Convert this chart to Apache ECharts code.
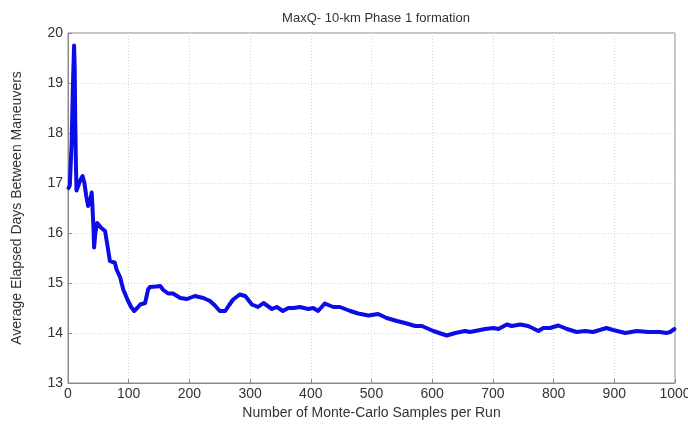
<!DOCTYPE html>
<html>
<head>
<meta charset="utf-8">
<script src="https://cdn.jsdelivr.net/npm/echarts@6/dist/echarts.min.js"></script>
<style>
  html, body { margin: 0; padding: 0; background: #fff; }
  #chart { width: 688px; height: 430px; }
</style>
</head>
<body>
<div id="chart"></div>
<script>
// Monte-Carlo sample count (x) and running average days between maneuvers (y)
const sampleCounts = [
  1, 3, 6, 8, 10, 11, 12, 13, 14, 17, 20, 24, 27, 30, 33, 36, 39, 40, 42, 43,
  45, 48, 50, 55, 61, 65, 69, 73, 77, 80, 86, 91, 99, 104, 109, 114, 119, 127, 132, 135,
  145, 152, 157, 165, 173, 185, 196, 209, 223, 234, 242, 250, 259, 265, 272, 283, 292, 303, 313, 322,
  336, 344, 354, 363, 372, 382, 396, 404, 412, 423, 437, 448, 465, 478, 495, 511, 525, 542, 555, 572,
  583, 602, 614, 624, 638, 654, 662, 679, 687, 701, 709, 723, 731, 745, 758, 775, 783, 794, 808, 822,
  838, 852, 865, 887, 898, 918, 937, 956, 975, 986, 992, 999
]
const avgDays = [
  16.9, 16.95, 17.8, 18.9, 19.75, 19.3, 18.2, 17.4, 16.85, 16.95, 17.05, 17.14, 17.0, 16.75, 16.54, 16.6, 16.81, 16.6, 16.1, 15.71,
  16.0, 16.2, 16.22, 16.1, 16.04, 15.75, 15.44, 15.42, 15.41, 15.27, 15.11, 14.87, 14.64, 14.52, 14.44, 14.5, 14.57, 14.6, 14.87, 14.92,
  14.93, 14.94, 14.86, 14.79, 14.79, 14.7, 14.68, 14.74, 14.7, 14.64, 14.55, 14.44, 14.44, 14.55, 14.67, 14.77, 14.74, 14.57, 14.52, 14.6,
  14.48, 14.52, 14.44, 14.5, 14.5, 14.52, 14.48, 14.5, 14.44, 14.59, 14.52, 14.52, 14.44, 14.39, 14.35, 14.38, 14.3, 14.24, 14.2, 14.14,
  14.14, 14.04, 13.99, 13.95, 14.0, 14.04, 14.02, 14.06, 14.08, 14.1, 14.08, 14.17, 14.14, 14.17, 14.14, 14.04, 14.1, 14.1, 14.15, 14.08,
  14.02, 14.04, 14.02, 14.1, 14.06, 14.0, 14.04, 14.02, 14.02, 14.0, 14.02, 14.08
]

const xTicks = { min: 0, max: 1000, interval: 100 }
const yTicks = { min: 13, max: 20, interval: 1 }

const chart = echarts.init(document.getElementById('chart'), null, { renderer: 'canvas' })

const fontFamily = '"Liberation Sans", Arial, sans-serif'

chart.setOption({
  animation: false,
  backgroundColor: '#ffffff',
  title: {
    text: 'MaxQ- 10-km Phase 1 formation',
    left: 371,
    top: 7,
    textAlign: 'center',
    textStyle: { fontFamily, fontSize: 13, fontWeight: 'normal', color: '#333' }
  },
  grid: {
    left: 68,
    right: 13,
    top: 33,
    bottom: 47,
    containLabel: false,
    outerBoundsMode: 'none',
    show: true,
    borderColor: '#8a8a8a',
    borderWidth: 1
  },
  xAxis: {
    type: 'value',
    ...xTicks,
    name: 'Number of Monte-Carlo Samples per Run',
    nameLocation: 'middle',
    nameGap: 22,
    nameTextStyle: { fontFamily, fontSize: 14, color: '#333' },
    axisLine: { show: true, lineStyle: { color: '#8a8a8a' } },
    axisTick: { show: true, inside: true, length: 4, lineStyle: { color: '#8a8a8a' } },
    axisLabel: { fontFamily, fontSize: 14, color: '#333', margin: 4, formatter: (v) => String(v) },
    splitLine: { show: true, lineStyle: { color: '#d6d6d6', type: [1, 2] } }
  },
  yAxis: {
    type: 'value',
    ...yTicks,
    name: 'Average Elapsed Days Between Maneuvers',
    nameLocation: 'middle',
    nameGap: 44,
    nameTextStyle: { fontFamily, fontSize: 14, color: '#333' },
    axisLine: { show: true, lineStyle: { color: '#8a8a8a' } },
    axisTick: { show: true, inside: true, length: 4, lineStyle: { color: '#8a8a8a' } },
    axisLabel: { fontFamily, fontSize: 14, color: '#333', margin: 5 },
    splitLine: { show: true, lineStyle: { color: '#d6d6d6', type: [1, 2] } }
  },
  series: [
    {
      type: 'line',
      data: sampleCounts.map((x, i) => [x, avgDays[i]]),
      showSymbol: false,
      smooth: false,
      lineStyle: { color: '#0c0ce6', width: 4, join: 'round', cap: 'round' },
      itemStyle: { color: '#0c0ce6' }
    }
  ]
})
</script>
</body>
</html>
